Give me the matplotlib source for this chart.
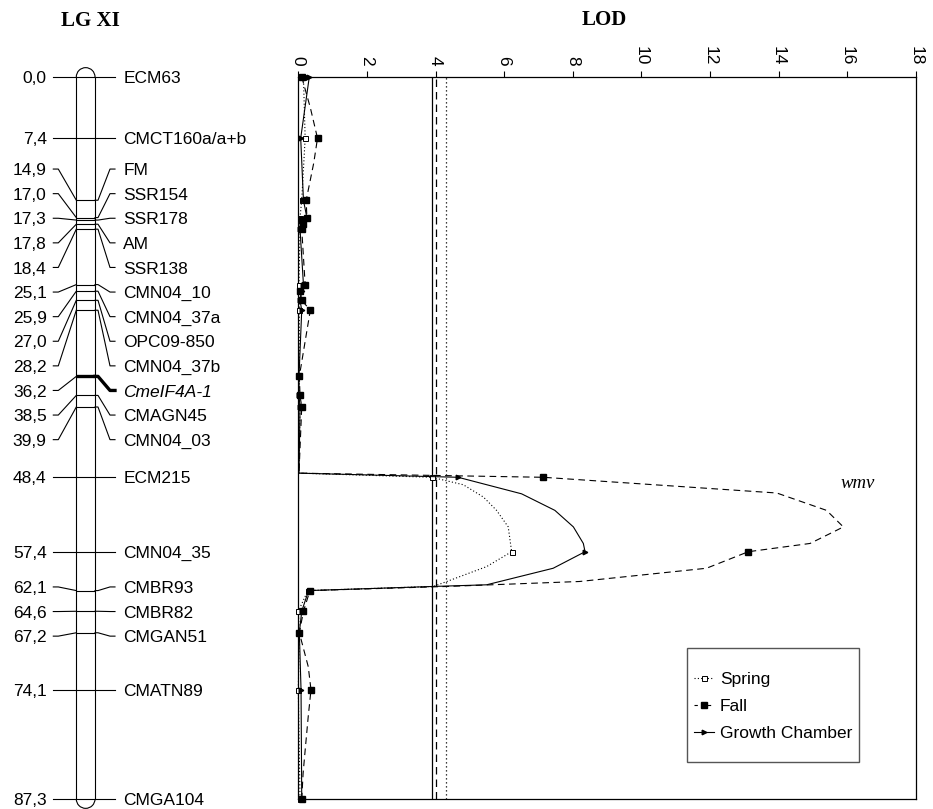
import matplotlib
matplotlib.use('Agg')
import matplotlib.pyplot as plt
from matplotlib.lines import Line2D
from matplotlib.patches import Arc, Rectangle

plt.rcParams['font.family'] = ['Liberation Sans', 'DejaVu Sans']

# linkage group XI : marker names and positions (cM)
marker_names = ['ECM63', 'CMCT160a/a+b', 'FM', 'SSR154', 'SSR178', 'AM', 'SSR138',
                'CMN04_10', 'CMN04_37a', 'OPC09-850', 'CMN04_37b', 'CmeIF4A-1',
                'CMAGN45', 'CMN04_03', 'ECM215', 'CMN04_35', 'CMBR93', 'CMBR82',
                'CMGAN51', 'CMATN89', 'CMGA104']
marker_cm = [0.0, 7.4, 14.9, 17.0, 17.3, 17.8, 18.4, 25.1, 25.9, 27.0, 28.2, 36.2,
             38.5, 39.9, 48.4, 57.4, 62.1, 64.6, 67.2, 74.1, 87.3]
candidate_gene = 'CmeIF4A-1'

# LOD profiles
spring_cm = [0.0, 7.4, 14.9, 17.0, 17.3, 17.8, 18.4, 25.1, 25.9, 27.0, 28.2, 36.2, 38.5,
             39.9, 47.9, 48.4, 49.3, 50.8, 52.4, 54.4, 57.4, 59.2, 61.0, 61.6, 62.1,
             64.6, 67.2, 74.1, 87.3]
spring_lod = [0.15, 0.2, 0.1, 0.05, 0.05, 0.04, 0.05, 0.02, 0.05, 0.05, 0.03, 0.03, 0.03,
              0.05, 0.02, 3.89, 4.81, 5.4, 5.78, 6.12, 6.22, 5.49, 4.33, 3.94, 0.28,
              0.0, 0.03, 0.0, 0.05]

fall_cm = [0.0, 3.7, 7.4, 10.4, 14.9, 17.0, 17.3, 17.8, 18.4, 25.1, 25.9, 27.0, 28.2,
           36.2, 38.5, 39.9, 47.9, 48.4, 50.3, 52.4, 54.4, 54.8, 56.4, 57.4, 59.4,
           61.0, 61.6, 62.1, 64.6, 67.2, 71.3, 74.1, 77.3, 81.4, 84.2, 87.3]
fall_lod = [0.1, 0.35, 0.56, 0.45, 0.23, 0.25, 0.1, 0.15, 0.1, 0.2, 0.05, 0.1, 0.35,
            0.03, 0.05, 0.1, 0.02, 7.14, 13.95, 15.4, 15.89, 15.7, 14.92, 13.12, 11.9,
            8.2, 4.33, 0.34, 0.15, 0.03, 0.29, 0.37, 0.29, 0.2, 0.14, 0.1]

gc_cm = [0.0, 7.4, 14.9, 17.0, 17.3, 17.8, 18.4, 25.1, 25.9, 27.0, 28.2, 36.2, 38.5,
         39.9, 47.9, 48.4, 50.4, 52.4, 54.4, 56.4, 57.4, 59.4, 61.4, 61.6, 62.1,
         64.6, 67.2, 74.1, 87.3]
gc_lod = [0.32, 0.07, 0.15, 0.25, 0.2, 0.1, 0.05, 0.15, 0.1, 0.05, 0.1, 0.02, 0.02,
          0.05, 0.02, 4.66, 6.51, 7.48, 8.02, 8.31, 8.36, 7.43, 5.49, 3.94, 0.3,
          0.1, 0.03, 0.08, 0.1]

# significance thresholds
spring_thr = 4.3
fall_thr = 4.0
gc_thr = 3.9

lod_ticks = [0, 2, 4, 6, 8, 10, 12, 14, 16, 18]
qtl_name = 'wmv'


def spread_labels(pos, gap):
    # group labels closer than gap, centre each group, push down if it hits the previous one
    groups = []
    for i, p in enumerate(pos):
        if groups and p - pos[groups[-1][-1]] < gap:
            groups[-1].append(i)
        else:
            groups.append([i])
    out = [0.0] * len(pos)
    prev_end = None
    for g in groups:
        mean = sum(pos[i] for i in g) / len(g)
        start = mean - (len(g) - 1) / 2.0 * gap
        if prev_end is not None and start < prev_end + gap:
            start = prev_end + gap
        for k, i in enumerate(g):
            out[i] = start + k * gap
        prev_end = out[g[-1]]
    return out


W, H = 933, 809
fig = plt.figure(figsize=(W / 100, H / 100), dpi=100)

ax_l, ax_r, ax_t, ax_b = 298.3, 915.7, 77.0, 799.0
pos = [ax_l / W, 1 - ax_b / H, (ax_r - ax_l) / W, (ax_b - ax_t) / H]
ax = fig.add_axes(pos)
ymax = marker_cm[-1]

# ---- LOD plot ----
def every(cms):
    return [i for i, c in enumerate(cms) if c in marker_cm]

ax.plot(spring_lod, spring_cm, color='k', lw=0.8, ls=(0, (1, 2)), marker='s', ms=3.6,
        mfc='white', mec='k', mew=0.7, markevery=every(spring_cm), clip_on=False, zorder=3)
ax.plot(fall_lod, fall_cm, color='k', lw=0.8, ls=(0, (6, 4)), marker='s', ms=4,
        mfc='k', mec='k', markevery=every(fall_cm), clip_on=False, zorder=3)
ax.plot(gc_lod, gc_cm, color='k', lw=0.8, ls='-', marker='>', ms=3.3,
        mfc='k', mec='k', markevery=every(gc_cm), clip_on=False, zorder=3)

ax.axvline(gc_thr, color='k', lw=0.9)
ax.axvline(fall_thr, color='k', lw=0.9, ls=(0, (6, 4)))
ax.axvline(spring_thr, color='k', lw=0.9, ls=(0, (1, 2.2)))

ax.set_xlim(0, 18)
ax.set_ylim(ymax, 0)
ax.set_xticks(lod_ticks)
ax.set_xticklabels([str(t) for t in lod_ticks])
ax.xaxis.tick_top()
ax.tick_params(axis='x', direction='out', length=4, width=0.8, pad=4.5,
               labelrotation=-90, labelsize=12.5)
ax.set_yticks([])
for s in ax.spines.values():
    s.set_linewidth(0.9)

ax.text(16.32, 49.2, qtl_name, family='Liberation Serif', style='italic', size=13.5,
        ha='center', va='center')

# legend with its own frame
ax.add_patch(Rectangle((0.629, 0.0517), 0.2796, 0.157, transform=ax.transAxes,
                       fill=False, ec='#555555', lw=1.0, zorder=4))
handles = [Line2D([], [], color='k', lw=0.8, ls=(0, (1, 2)), marker='s', ms=3.6,
                  mfc='white', mec='k', mew=0.7),
           Line2D([], [], color='k', lw=0.8, ls=(0, (3, 3)), marker='s', ms=4, mfc='k'),
           Line2D([], [], color='k', lw=0.8, marker='>', ms=3.3, mfc='k')]
ax.legend(handles, ['Spring', 'Fall', 'Growth Chamber'], loc='center',
          bbox_to_anchor=(0.769, 0.128), frameon=False, fontsize=12.5, numpoints=1,
          handlelength=1.15, handletextpad=0.33, labelspacing=0.7, borderpad=0)

# ---- linkage map ----
axm = fig.add_axes([0, pos[1], ax_l / W, pos[3]])
axm.set_xlim(0, ax_l)
axm.set_ylim(ymax, 0)
axm.axis('off')

px_per_cm = (ax_b - ax_t) / ymax
bar_l, bar_r = 76.3, 95.0
r_px = (bar_r - bar_l) / 2
r_cm = r_px / px_per_cm
xc = (bar_l + bar_r) / 2

axm.plot([bar_l, bar_l], [0, ymax], color='k', lw=0.8, clip_on=False)
axm.plot([bar_r, bar_r], [0, ymax], color='k', lw=0.8, clip_on=False)
axm.add_patch(Arc((xc, 0), 2 * r_px, 2 * r_cm, theta1=180, theta2=360, lw=0.8,
                  color='k', clip_on=False))
axm.add_patch(Arc((xc, ymax), 2 * r_px, 2 * r_cm, theta1=0, theta2=180, lw=0.8,
                  color='k', clip_on=False))

lab_cm = spread_labels(marker_cm, 24.6 / px_per_cm)
half_cap = 6.2 / px_per_cm   # put the middle of the capitals on the connector line
x_num, x_l0, x_r1, x_name = 46.7, 53.3, 115.0, 123.3
for name, c, lc in zip(marker_names, marker_cm, lab_cm):
    lw = 2.4 if name == candidate_gene else 0.8
    axm.plot([x_l0, x_l0 + 5, bar_l], [lc, lc, c], color='k', lw=0.8, clip_on=False)
    axm.plot([bar_l, bar_r], [c, c], color='k', lw=lw, clip_on=False,
             solid_capstyle='butt')
    axm.plot([bar_r, bar_r + 3, x_r1 - 5, x_r1], [c, c, lc, lc], color='k', lw=lw,
             clip_on=False)
    axm.text(x_num, lc + half_cap, ('%.1f' % c).replace('.', ','), ha='right',
             va='baseline', size=12.5, clip_on=False)
    axm.text(x_name, lc + half_cap, name, ha='left', va='baseline', size=12.5,
             clip_on=False, style='italic' if name == candidate_gene else 'normal')

fig.text(90.5 / W, 1 - 20.8 / H, 'LG XI', ha='center', va='center',
         family='Liberation Serif', weight='bold', size=15)
fig.text(604 / W, 1 - 20.0 / H, 'LOD', ha='center', va='center',
         family='Liberation Serif', weight='bold', size=15)

fig.savefig('out.png', dpi=100)
